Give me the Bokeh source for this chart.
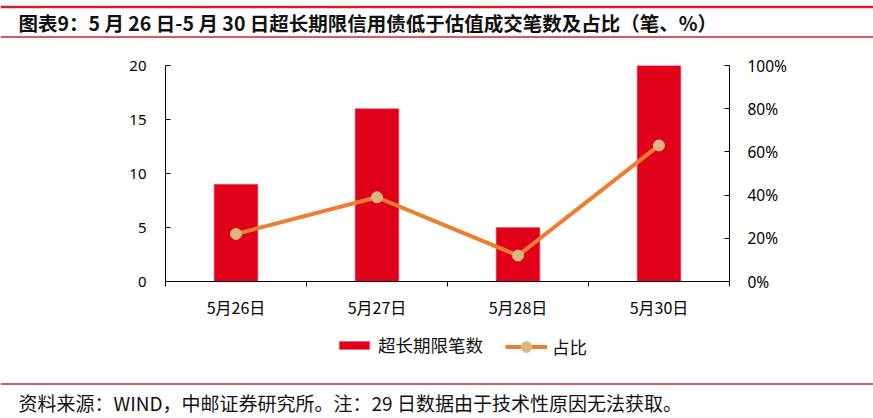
from bokeh.plotting import figure
from bokeh.models import (Range1d, LinearAxis, FixedTicker, NumeralTickFormatter,
                          Legend, LegendItem, ColumnDataSource)
from bokeh.layouts import column, row
from bokeh.core.properties import value
from bokeh.embed import file_html
from bokeh.resources import INLINE

# ---- data ----
categories = ["5月26日", "5月27日", "5月28日", "5月30日"]
counts = [9, 16, 5, 20]
ratios = [0.22, 0.39, 0.12, 0.63]
left_ticks = [0, 5, 10, 15, 20]
right_ticks = [0, 0.2, 0.4, 0.6, 0.8, 1.0]
title_text = "图表9：5 月 26 日-5 月 30 日超长期限信用债低于估值成交笔数及占比（笔、%）"
note_text = "资料来源：WIND，中邮证券研究所。注：29 日数据由于技术性原因无法获取。"
series_names = ["超长期限笔数", "占比"]

W = 873
RED_LINE = "#D0202A"
BAR = "#E10019"
BAR_EDGE = "#EE5A6A"
LINE = "#ED7D31"
MARK = "#DDB77F"
CJK = "Noto Sans CJK SC"


def blank(h):
    f = figure(width=W, height=h, x_range=Range1d(0, W), y_range=Range1d(h, 0),
               output_backend="svg", toolbar_location=None,
               min_border_left=0, min_border_right=0, min_border_top=0, min_border_bottom=0)
    f.axis.visible = False
    f.grid.visible = False
    f.outline_line_color = None
    return f


# ---- header ----
HH = 40
head = blank(HH)
head.segment(x0=[0], y0=[6.5], x1=[W], y1=[6.5], line_color=RED_LINE, line_width=2.5)
head.segment(x0=[0], y0=[36.5], x1=[W], y1=[36.5], line_color=RED_LINE, line_width=1.3)
head.text(x=[18], y=[22], text=[title_text], text_font=value(CJK), text_font_style="bold",
          text_font_size="19.5px", text_baseline="middle", text_align="left", text_color="#111111")

# ---- main chart ----
MH = 281
p = figure(width=W, height=MH, x_range=Range1d(0, len(categories)), y_range=Range1d(0, 20),
           output_backend="svg", toolbar_location=None,
           min_border_left=165, min_border_right=144, min_border_top=25, min_border_bottom=40)
p.grid.visible = False
p.outline_line_color = None
p.extra_y_ranges = {"pct": Range1d(0, 1)}

xs = [i + 0.5 for i in range(len(categories))]
src = ColumnDataSource(dict(x=xs, c=counts, r=ratios))
p.vbar(x="x", top="c", width=0.31, source=src, fill_color=BAR, line_color=BAR_EDGE, line_width=0.6)
p.line(x="x", y="r", source=src, y_range_name="pct", line_color=LINE, line_width=4)
p.scatter(x="x", y="r", source=src, y_range_name="pct", size=11, fill_color=MARK, line_color=MARK)

# x axis
xa = p.xaxis[0]
xa.ticker = FixedTicker(ticks=xs, minor_ticks=list(range(len(categories) + 1)))
xa.major_label_overrides = {x: c for x, c in zip(xs, categories)}
xa.major_tick_line_color = None
xa.minor_tick_out = 5
xa.minor_tick_in = 0
xa.minor_tick_line_color = "black"
xa.axis_line_color = "black"
xa.major_label_text_font = CJK
xa.major_label_text_font_size = "16px"
xa.major_label_text_color = "#000000"
xa.major_label_standoff = 7

# left axis
ya = p.yaxis[0]
ya.ticker = FixedTicker(ticks=left_ticks)
ya.major_tick_in = 5
ya.major_tick_out = 0
ya.minor_tick_line_color = None
ya.axis_line_color = "black"
ya.major_tick_line_color = "black"
ya.major_label_text_font = "Noto Sans"
ya.major_label_text_font_size = "15px"
ya.major_label_text_color = "#000000"
ya.major_label_standoff = 19

# right axis
ra = LinearAxis(y_range_name="pct", ticker=FixedTicker(ticks=right_ticks),
                formatter=NumeralTickFormatter(format="0%"))
ra.major_tick_in = 5
ra.major_tick_out = 0
ra.minor_tick_line_color = None
ra.axis_line_color = "black"
ra.major_tick_line_color = "black"
ra.major_label_text_font = "Noto Sans"
ra.major_label_text_font_size = "15.5px"
ra.major_label_text_color = "#000000"
ra.major_label_standoff = 18
p.add_layout(ra, "right")

# ---- footer (legend + source note) ----
FH = 97
foot = blank(FH)
# legend proxies: same data, drawn on ranges far outside the visible frame
foot.extra_x_ranges = {"off": Range1d(1000, 1001)}
foot.extra_y_ranges = {"off": Range1d(1000, 1001)}
lg_bar = foot.vbar(x="x", top="c", width=0.31, source=src, x_range_name="off", y_range_name="off",
                   fill_color=BAR, line_color=BAR_EDGE, line_width=0.6)
lg_line = foot.line(x="x", y="r", source=src, x_range_name="off", y_range_name="off",
                    line_color=LINE, line_width=4)
lg_mark = foot.scatter(x="x", y="r", source=src, x_range_name="off", y_range_name="off",
                       size=11, fill_color=MARK, line_color=MARK)
common = dict(orientation="horizontal", padding=0, margin=0, spacing=20, label_standoff=5,
              label_height=20, label_text_font=CJK, label_text_font_size="17.5px",
              label_text_color="#111111", border_line_color=None, background_fill_alpha=0)
legend1 = Legend(items=[LegendItem(label=series_names[0], renderers=[lg_bar])],
                 location=(335, 61), glyph_width=38, glyph_height=10, **common)
legend2 = Legend(items=[LegendItem(label=series_names[1], renderers=[lg_line, lg_mark])],
                 location=(505, 58.5), glyph_width=42, glyph_height=27, **common)
foot.add_layout(legend1, "center")
foot.add_layout(legend2, "center")
foot.segment(x0=[0], y0=[62.5], x1=[W], y1=[62.5], line_color=RED_LINE, line_width=1.3)
foot.text(x=[18], y=[81], text=[note_text], text_font=value(CJK), text_font_size="19px",
          text_baseline="middle", text_align="left", text_color="#111111")

layout = column(row(head), p, row(foot), spacing=0)
open("out.html", "w").write(file_html(layout, INLINE))
